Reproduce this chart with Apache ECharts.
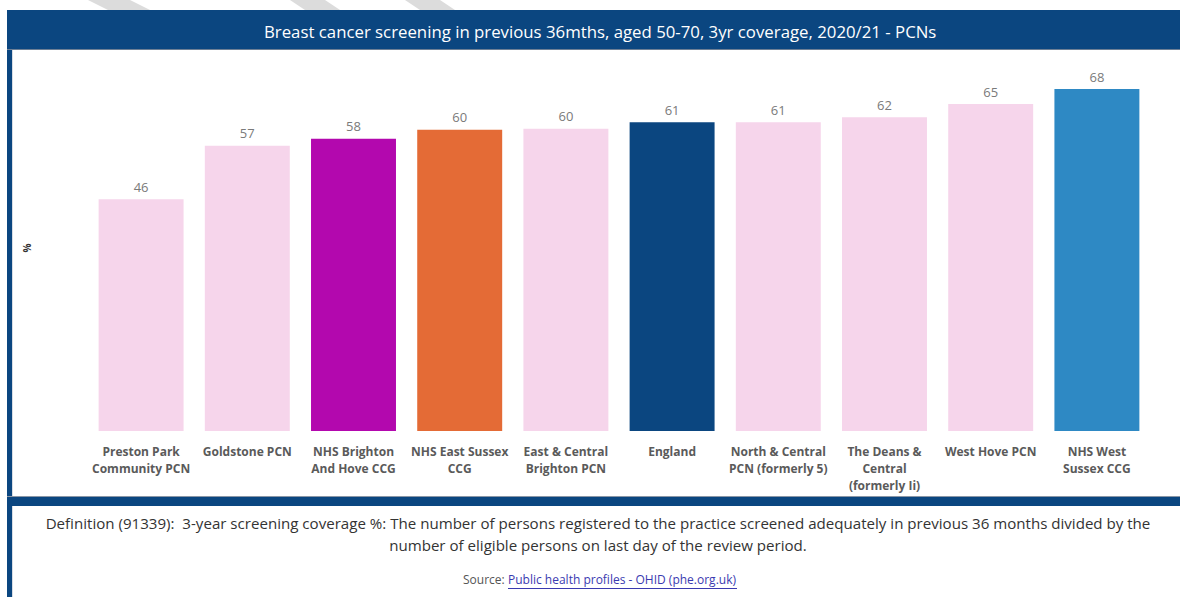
<!DOCTYPE html>
<html>
<head>
<meta charset="utf-8">
<script src="https://cdn.jsdelivr.net/npm/echarts@6/dist/echarts.min.js"></script>
<style>
html,body{margin:0;padding:0;background:#fff;}
#chart{width:1180px;height:597px;}
</style>
</head>
<body>
<div id="chart"></div>
<script>
const titleText = 'Breast cancer screening in previous 36mths, aged 50-70, 3yr coverage, 2020/21 - PCNs';
const categories = [
  'Preston Park\nCommunity PCN',
  'Goldstone PCN',
  'NHS Brighton\nAnd Hove CCG',
  'NHS East Sussex\nCCG',
  'East & Central\nBrighton PCN',
  'England',
  'North & Central\nPCN (formerly 5)',
  'The Deans &\nCentral\n(formerly Ii)',
  'West Hove PCN',
  'NHS West\nSussex CCG'
];
const values = [46.1, 56.7, 58.1, 59.9, 60.1, 61.4, 61.4, 62.4, 65.0, 68.0];
const barColors = ['#F6D5EB','#F6D5EB','#B308AE','#E46B36','#F6D5EB','#0B4680','#F6D5EB','#F6D5EB','#F6D5EB','#2E89C4'];
const yAxisName = '%';
const definitionLines = [
  'Definition (91339):  3-year screening coverage %: The number of persons registered to the practice screened adequately in previous 36 months divided by the',
  'number of eligible persons on last day of the review period.'
];
const sourceLabel = 'Source: ';
const sourceLink = 'Public health profiles - OHID (phe.org.uk)';

const FONT = '"Open Sans", "Noto Sans", sans-serif';
const chart = echarts.init(document.getElementById('chart'), null, {renderer: 'svg'});

const option = {
  backgroundColor: '#fff',
  animation: false,
  title: {
    text: titleText,
    left: 259,
    top: 18,
    textStyle: {color: '#fff', fontSize: 16.8, fontWeight: 'normal', fontFamily: FONT}
  },
  grid: {left: 88, right: 30, top: 89, bottom: 166, containLabel: false},
  xAxis: {
    type: 'category',
    data: categories,
    axisLine: {show: false},
    axisTick: {show: false},
    axisLabel: {
      interval: 0,
      margin: 12,
      color: '#5a5a5a',
      fontSize: 12,
      fontWeight: 'bold',
      lineHeight: 17,
      fontFamily: FONT
    }
  },
  yAxis: {
    type: 'value',
    min: 0,
    max: 68,
    name: yAxisName,
    nameLocation: 'middle',
    nameGap: 56,
    nameRotate: -90,
    nameTextStyle: {color: '#333', fontSize: 10, fontWeight: 'bold', fontFamily: FONT, padding: [0, 24, 0, 0]},
    axisLabel: {show: false},
    axisLine: {show: false},
    axisTick: {show: false},
    splitLine: {show: false}
  },
  series: [{
    type: 'bar',
    barCategoryGap: '20%',
    data: values.map((v, i) => ({value: v, itemStyle: {color: barColors[i]}})),
    label: {
      show: true,
      position: 'top',
      distance: 6,
      color: '#7a7a7a',
      fontSize: 13,
      fontFamily: FONT,
      formatter: p => String(Math.round(p.value))
    }
  }],
  graphic: [
    {type: 'polygon', silent: true, z: 0, shape: {points: [[88,0],[130,0],[150,10],[108,10]]}, style: {fill: '#dcdcdc'}},
    {type: 'polygon', silent: true, z: 0, shape: {points: [[290,0],[325,0],[340,10],[305,10]]}, style: {fill: '#dcdcdc'}},
    {type: 'polygon', silent: true, z: 0, shape: {points: [[405,0],[440,0],[455,10],[420,10]]}, style: {fill: '#dcdcdc'}},
    {type: 'rect', silent: true, z: -1, shape: {x: 7, y: 10, width: 1173, height: 40}, style: {fill: '#0B4680'}},
    {type: 'rect', silent: true, z: -1, shape: {x: 7, y: 49, width: 1173, height: 1}, style: {fill: '#6d7f95'}},
    {type: 'rect', silent: true, z: -1, shape: {x: 7, y: 50, width: 5, height: 547}, style: {fill: '#0B4680'}},
    {type: 'rect', silent: true, z: -1, shape: {x: 12, y: 50, width: 1, height: 547}, style: {fill: '#d8dde4'}},
    {type: 'rect', silent: true, z: -1, shape: {x: 7, y: 497, width: 1173, height: 9}, style: {fill: '#0B4680'}},
    {type: 'rect', silent: true, z: -1, shape: {x: 7, y: 496, width: 1173, height: 1}, style: {fill: '#8a96a6'}},
    {type: 'text', x: 598, y: 515, style: {text: definitionLines[0], fill: '#333', font: '15.1px ' + FONT, align: 'center', verticalAlign: 'top'}},
    {type: 'text', x: 598, y: 537, style: {text: definitionLines[1], fill: '#333', font: '15.1px ' + FONT, align: 'center', verticalAlign: 'top'}},
    {type: 'text', left: 463, top: 573, style: {text: sourceLabel, fill: '#555', font: '12px ' + FONT}},
    {type: 'text', left: 508, top: 573, style: {text: sourceLink, fill: '#3a3ab0', font: '12px ' + FONT}},
    {type: 'rect', silent: true, shape: {x: 508, y: 588, width: 229, height: 1}, style: {fill: '#3a3ab0'}}
  ]
};
chart.setOption(option);
</script>
</body>
</html>
